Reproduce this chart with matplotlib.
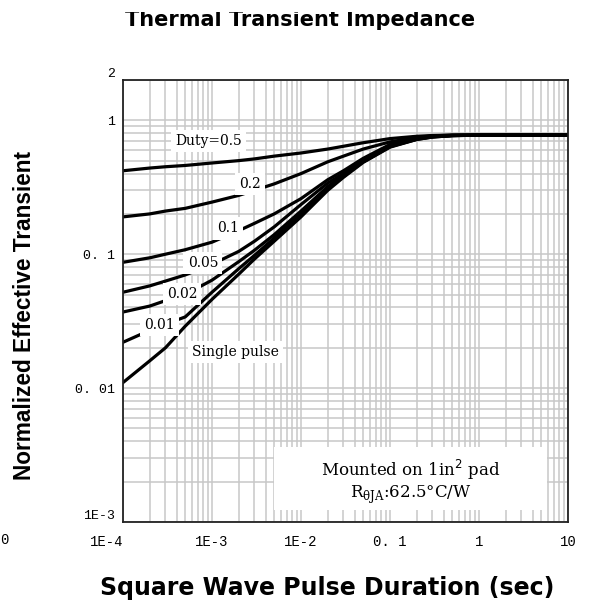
import matplotlib
matplotlib.use("Agg")
import matplotlib.pyplot as plt
from matplotlib.patches import Rectangle

# pulse duration (s) and normalized transient impedance per duty cycle
t = [1e-4, 2e-4, 3e-4, 5e-4, 1e-3, 2e-3, 3e-3, 5e-3, 1e-2, 2e-2, 3e-2, 5e-2,
     0.1, 0.2, 0.3, 0.5, 1, 2, 5, 10]
d50 = [0.42, 0.44, 0.45, 0.46, 0.48, 0.50, 0.515, 0.54, 0.57, 0.61, 0.64, 0.68,
       0.73, 0.76, 0.77, 0.775, 0.775, 0.775, 0.775, 0.775]
d20 = [0.19, 0.20, 0.21, 0.22, 0.245, 0.275, 0.30, 0.335, 0.40, 0.49, 0.54, 0.61,
       0.69, 0.745, 0.765, 0.775, 0.775, 0.775, 0.775, 0.775]
d10 = [0.087, 0.094, 0.10, 0.108, 0.123, 0.15, 0.17, 0.20, 0.26, 0.36, 0.42, 0.52,
       0.66, 0.735, 0.76, 0.772, 0.775, 0.775, 0.775, 0.775]
d05 = [0.052, 0.058, 0.063, 0.07, 0.084, 0.105, 0.125, 0.16, 0.235, 0.34, 0.40, 0.50,
       0.645, 0.73, 0.755, 0.77, 0.775, 0.775, 0.775, 0.775]
d02 = [0.037, 0.041, 0.045, 0.05, 0.064, 0.088, 0.107, 0.14, 0.21, 0.32, 0.39, 0.49,
       0.64, 0.725, 0.755, 0.77, 0.775, 0.775, 0.775, 0.775]
d01 = [0.022, 0.027, 0.030, 0.034, 0.052, 0.078, 0.098, 0.132, 0.20, 0.31, 0.38, 0.49,
       0.635, 0.72, 0.75, 0.768, 0.775, 0.775, 0.775, 0.775]
single = [0.011, 0.016, 0.020, 0.029, 0.046, 0.071, 0.092, 0.125, 0.19, 0.30, 0.375, 0.485,
          0.63, 0.72, 0.75, 0.768, 0.775, 0.775, 0.775, 0.775]
curves = [d50, d20, d10, d05, d02, d01, single]

# curve labels and where they sit
labels = ["Duty=0.5", "0.2", "0.1", "0.05", "0.02", "0.01", "Single pulse"]
label_x = [9.2e-4, 2.67e-3, 1.51e-3, 7.9e-4, 4.6e-4, 2.54e-4, 1.85e-3]
label_y = [0.70, 0.333, 0.156, 0.0857, 0.0503, 0.0295, 0.0186]

xticks = [1e-4, 1e-3, 1e-2, 0.1, 1, 10]
xticklabels = ["1E-4", "1E-3", "1E-2", "0. 1", "1", "10"]
yticks = [1e-3, 0.01, 0.1, 1, 2]
yticklabels = ["1E-3", "0. 01", "0. 1", "1", "2"]

SERIF = "DejaVu Serif"
MONO = "Liberation Mono"
SANS = "DejaVu Sans"

W, H = 595, 602
fig = plt.figure(figsize=(W / 100, H / 100), dpi=100)
ax = fig.add_axes([123 / W, 1 - 522 / H, 445 / W, 442 / H])
ax.set_xscale("log")
ax.set_yscale("log")
ax.set_xlim(1e-4, 10)
ax.set_ylim(1e-3, 2)

ax.grid(which="both", color="#c8c8c8", lw=1.1)
ax.set_axisbelow(True)

for y in curves:
    ax.plot(t, y, color="black", lw=2.3, solid_capstyle="round", zorder=3)

for s, lx, ly in zip(labels, label_x, label_y):
    ax.text(lx, ly, s, family=SERIF, fontsize=10, ha="center", va="center",
            zorder=5, bbox=dict(facecolor="white", edgecolor="none", pad=3))

# note box in the lower right
ax.add_patch(Rectangle((4.98e-3, 1.23e-3), 5.8 - 4.98e-3, 3.63e-3 - 1.23e-3,
                       facecolor="white", edgecolor="none", zorder=4))
ax.text(0.17, 2.44e-3, "Mounted on 1in$^2$ pad", family=SERIF, fontsize=12,
        ha="center", va="center", zorder=5)
ax.text(0.17, 1.59e-3, r"R$_{\mathregular{\theta JA}}$:62.5°C/W", family=SERIF,
        fontsize=12, ha="center", va="center", zorder=5)

for sp in ax.spines.values():
    sp.set_linewidth(1.3)
    sp.set_color("#222222")
    sp.set_zorder(6)

ax.set_xticks(xticks)
ax.set_xticklabels(xticklabels, family=MONO, fontsize=10)
ax.set_yticks(yticks)
ax.set_yticklabels(yticklabels, family=MONO, fontsize=9.5)
ax.tick_params(which="both", length=0)
ax.tick_params(axis="x", pad=9)
ax.tick_params(axis="y", pad=6)
ax.get_xticklabels()[0].set_ha("right")
ax.get_yticklabels()[0].set_va("bottom")
ax.get_yticklabels()[-1].set_va("bottom")

ax.set_xlabel("Square Wave Pulse Duration (sec)", family=SANS, fontsize=17,
              fontweight="bold", va="baseline")
ax.xaxis.set_label_coords(327 / W, 1 - 595 / H, transform=fig.transFigure)
ax.set_ylabel("Normalized Effective Transient", family="Liberation Sans",
              fontsize=16.3, fontweight="bold", va="center")
ax.yaxis.set_label_coords(25 / W, 1 - 315 / H, transform=fig.transFigure)

fig.text(300 / W, 1 - 26 / H, "Thermal Transient Impedance", family=SANS,
         fontsize=15, fontweight="bold", ha="center", va="baseline")
# strip along the top edge trims the title caps
fig.patches.append(Rectangle((0, 1 - 12 / H), 1, 12 / H, transform=fig.transFigure,
                             facecolor="white", edgecolor="none", zorder=10))
fig.text(0.0, 1 - 540 / H, "0", family=MONO, fontsize=10, ha="left", va="center")

fig.savefig("out.png", facecolor="white")
